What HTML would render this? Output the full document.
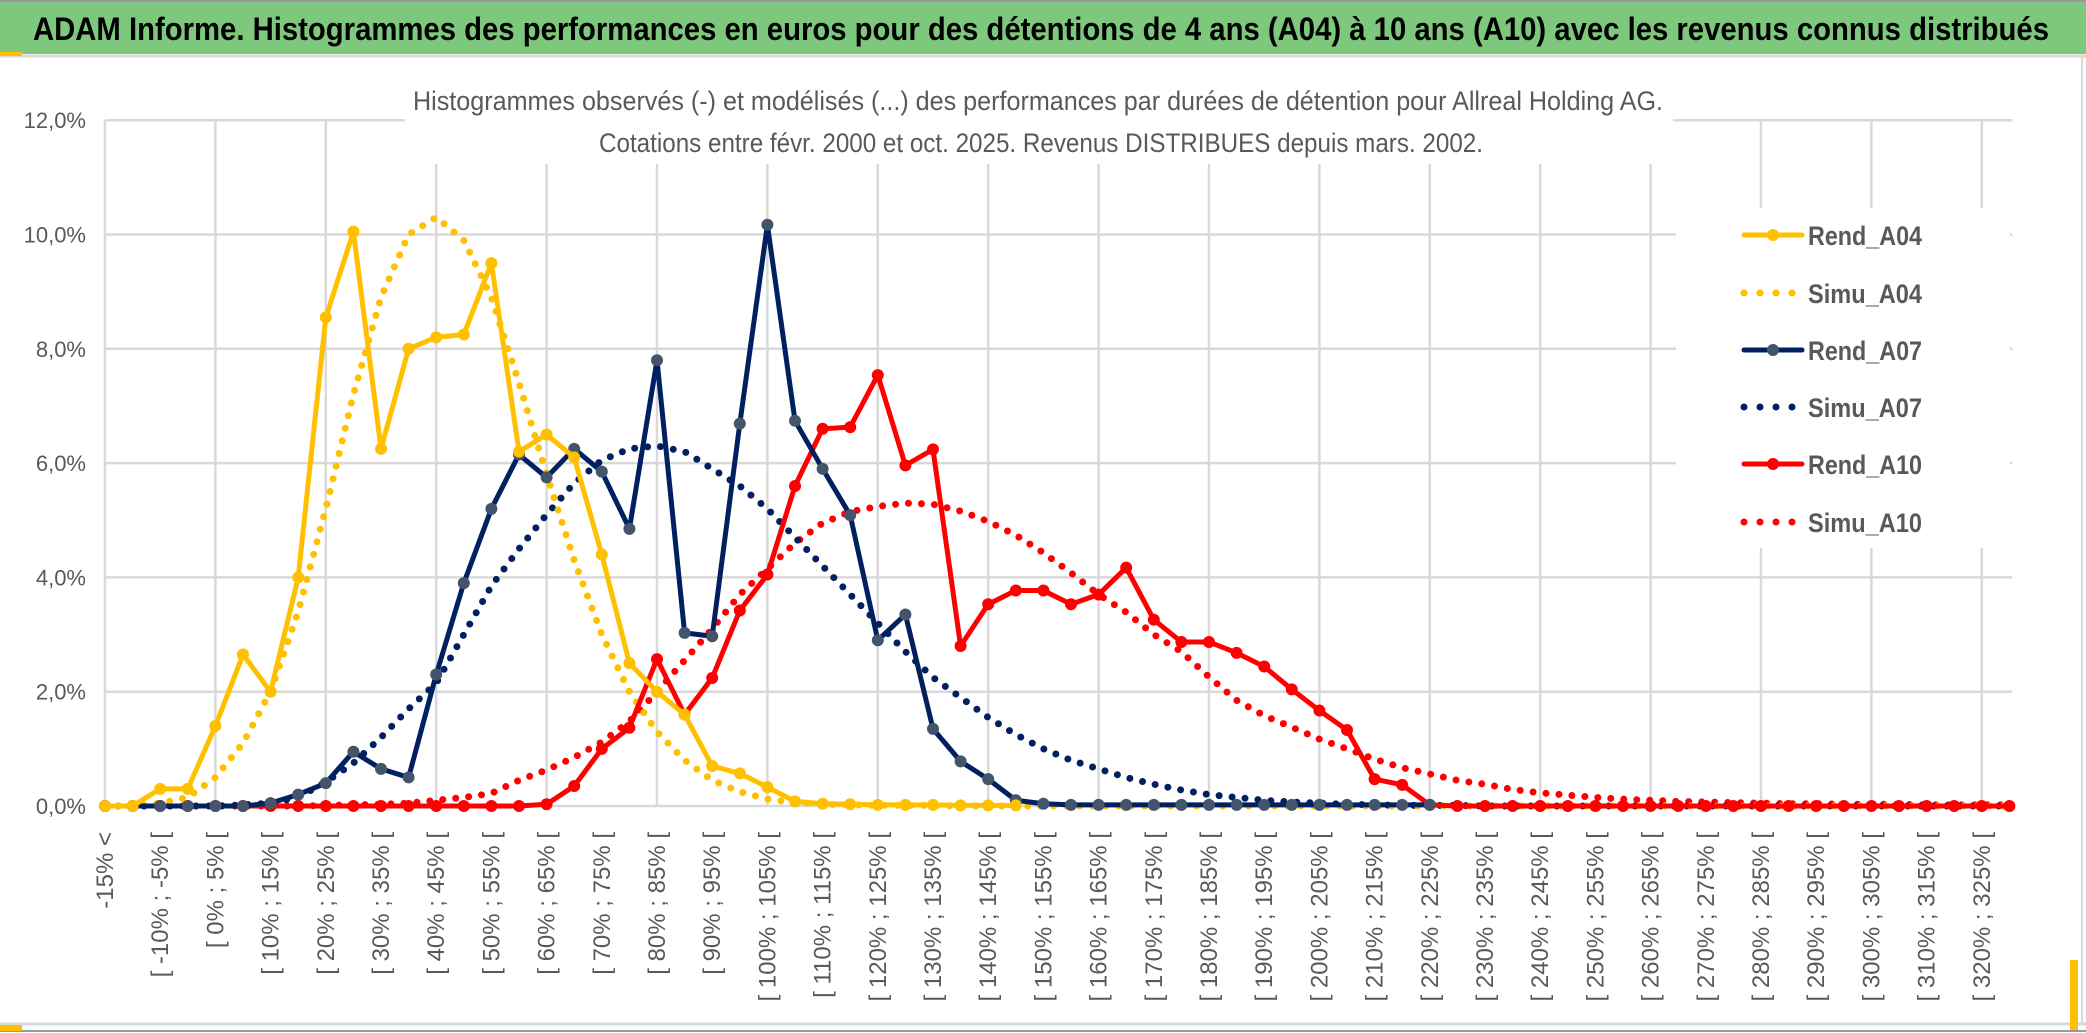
<!DOCTYPE html>
<html><head><meta charset="utf-8">
<style>
html,body{margin:0;padding:0;background:#fff;}
svg{display:block;font-family:"Liberation Sans",sans-serif;}
</style></head>
<body>
<svg id="chart" width="2086" height="1033" viewBox="0 0 2086 1033" xmlns="http://www.w3.org/2000/svg">
<rect x="0" y="0" width="2086" height="1033" fill="#ffffff"/>
<rect x="0" y="2" width="2086" height="52" fill="#7ec87e"/>
<line x1="0" y1="1" x2="2086" y2="1" stroke="#999" stroke-width="2"/>
<line x1="0" y1="56" x2="2086" y2="56" stroke="#d9d9d9" stroke-width="3"/>
<rect x="0" y="52" width="22" height="4" fill="#ffc000"/>
<text x="33" y="40" font-size="32" font-weight="bold" fill="#000" textLength="2016" lengthAdjust="spacingAndGlyphs">ADAM Informe. Histogrammes des performances en euros pour des détentions de 4 ans (A04) à 10 ans (A10) avec les revenus connus distribués</text>
<line x1="2082" y1="56" x2="2082" y2="1025" stroke="#d9d9d9" stroke-width="2"/>
<line x1="0" y1="1024" x2="2086" y2="1024" stroke="#d9d9d9" stroke-width="3"/>
<line x1="0" y1="1031" x2="2086" y2="1031" stroke="#999" stroke-width="2"/>
<rect x="0" y="1025" width="22" height="6" fill="#ffc000"/>
<rect x="2070" y="960" width="8" height="70" fill="#ffc000"/>
<g id="grid"></g>
<rect x="405" y="60" width="1268" height="104" fill="#fff"/>
<text x="1038" y="110" font-size="27" fill="#595959" text-anchor="middle" textLength="1250" lengthAdjust="spacingAndGlyphs">Histogrammes observés (-) et modélisés (...) des performances par durées de détention pour Allreal Holding AG.</text>
<text x="1041" y="152" font-size="27" fill="#595959" text-anchor="middle" textLength="884" lengthAdjust="spacingAndGlyphs">Cotations entre févr. 2000 et oct. 2025. Revenus DISTRIBUES depuis mars. 2002.</text>
<g id="axes"></g>
<g id="series"></g>
<g id="legend"></g>
</svg>
<script>
const yTicks = [0, 2, 4, 6, 8, 10, 12];
const yTickLabels = ["0,0%","2,0%","4,0%","6,0%","8,0%","10,0%","12,0%"];
const nCategories = 70;
const rendA04 = [0,0,0.3,0.3,1.4,2.65,2.0,4.0,8.55,10.05,6.25,8.0,8.2,8.25,9.5,6.2,6.5,6.1,4.4,2.5,2.0,1.6,0.7,0.57,0.33,0.08,0.04,0.03,0.02,0.02,0.02,0.01,0.01,0.01];
const simuA04 = [0,0,0.05,0.15,0.5,1.1,2.0,3.4,5.2,7.2,8.9,10.0,10.3,9.9,8.9,7.4,5.8,4.3,3.0,2.0,1.3,0.8,0.45,0.25,0.12,0.06,0.03,0.02,0.01,0.01,0.01,0,0,0,0,0,0,0,0,0,0,0,0,0,0,0,0,0,0,0,0,0,0,0,0,0,0,0,0,0,0,0,0,0,0,0,0,0,0,0];
const rendA07 = [0,0,0,0,0,0,0.05,0.2,0.4,0.95,0.65,0.5,2.3,3.9,5.2,6.15,5.75,6.25,5.85,4.85,7.8,3.03,2.97,6.69,10.17,6.74,5.9,5.09,2.9,3.35,1.35,0.78,0.47,0.1,0.04,0.02,0.02,0.02,0.02,0.02,0.02,0.02,0.02,0.02,0.02,0.02,0.02,0.02,0.02];
const simuA07 = [0,0,0,0,0,0.02,0.05,0.15,0.42,0.75,1.2,1.7,2.15,3.0,3.85,4.5,5.1,5.65,6.05,6.25,6.3,6.2,5.9,5.6,5.2,4.7,4.2,3.7,3.2,2.7,2.25,1.9,1.55,1.25,1.0,0.8,0.65,0.5,0.38,0.28,0.2,0.15,0.1,0.07,0.05,0.03,0.02,0.01,0.01,0.01,0,0,0,0,0,0,0,0,0,0,0,0,0,0,0,0,0,0,0,0];
const rendA10 = [0,0,0,0,0,0,0,0,0,0,0,0,0,0,0,0,0.03,0.35,1.0,1.37,2.57,1.6,2.24,3.42,4.05,5.6,6.6,6.63,7.54,5.96,6.24,2.8,3.53,3.77,3.77,3.53,3.7,4.17,3.26,2.87,2.87,2.68,2.44,2.04,1.67,1.33,0.47,0.37,0.02,0,0,0,0,0,0,0,0,0,0,0,0,0,0,0,0,0,0,0,0,0];
const simuA10 = [0,0,0,0,0,0,0,0,0.01,0.02,0.03,0.05,0.1,0.15,0.22,0.45,0.63,0.85,1.12,1.48,2.0,2.55,3.1,3.7,4.15,4.6,4.95,5.15,5.24,5.3,5.28,5.16,4.98,4.74,4.43,4.08,3.7,3.39,3.0,2.7,2.26,1.85,1.58,1.38,1.17,1.0,0.82,0.67,0.56,0.45,0.38,0.29,0.23,0.19,0.15,0.12,0.1,0.08,0.07,0.06,0.05,0.04,0.04,0.03,0.03,0.03,0.02,0.02,0.02,0.02];

const NS = "http://www.w3.org/2000/svg";
const X0 = 105, DX = 27.6, Y0 = 806, PER = 57.15;
function xScale(i){ return X0 + i*DX; }
function yScale(v){ return Y0 - v*PER; }
function catLabel(i){ return i===0 ? "-15% <" : "[ " + (5*i-20) + "% ; " + (5*i-15) + "% [" ; }
function mk(tag, attrs, parent){ const e=document.createElementNS(NS,tag); for(const k in attrs) e.setAttribute(k, attrs[k]); parent.appendChild(e); return e; }

const grid = document.getElementById('grid');
const xRight = xScale(nCategories-1)+3;
for (let t=0;t<yTicks.length;t++){
  const l = mk('line',{x1:X0,x2:xRight,y1:yScale(yTicks[t]),y2:yScale(yTicks[t]),stroke:'#d9d9d9','stroke-width':2.5},grid);
  
  
}
for (let i=0;i<nCategories;i+=4){
  const l = mk('line',{x1:xScale(i),x2:xScale(i),y1:yScale(12),y2:yScale(0),stroke:'#d9d9d9','stroke-width':2.5},grid);
  
  
}

const axes = document.getElementById('axes');
for (let t=0;t<yTicks.length;t++){
  const tx = mk('text',{x:86,y:yScale(yTicks[t])+8,'font-size':22,fill:'#595959','text-anchor':'end'},axes);
  
  
  tx.textContent = yTickLabels[t];
}
for (let i=0;i<nCategories-1;i+=2){
  const x = xScale(i)+8, y = 832;
  const tx = mk('text',{x:x,y:y,'font-size':24,fill:'#595959','text-anchor':'end',transform:'rotate(-90 '+x+' '+y+')'},axes);
  
  
  tx.textContent = catLabel(i);
}

const series = document.getElementById('series');
function pts(arr){ return arr.map((v,i)=>xScale(i)+','+yScale(v)).join(' '); }
function drawSimu(arr,color,name){
  const p = mk('polyline',{points:pts(arr),fill:'none',stroke:color,'stroke-width':7,'stroke-dasharray':'0 13','stroke-linecap':'round','stroke-linejoin':'round'},series);
  
  
}
function drawRend(arr,color,mcolor,name){
  const p = mk('polyline',{points:pts(arr),fill:'none',stroke:color,'stroke-width':5,'stroke-linejoin':'round'},series);
  
  
  arr.forEach((v,i)=>{
    const c = mk('circle',{cx:xScale(i),cy:yScale(v),r:6,fill:mcolor},series);
    
    
  });
}
drawSimu(simuA10,'#ff0000','simu-a10-line');
drawSimu(simuA07,'#002060','simu-a07-line');
drawSimu(simuA04,'#ffc000','simu-a04-line');
drawRend(rendA10,'#ff0000','#ff0000','rend-a10-line');
drawRend(rendA07,'#002060','#44546a','rend-a07-line');
drawRend(rendA04,'#ffc000','#ffc000','rend-a04-line');

const legend = document.getElementById('legend');
const bg = mk('rect',{x:1676,y:208,width:334,height:340,fill:'#fff'},legend);


const legendNames = ["Rend_A04","Simu_A04","Rend_A07","Simu_A07","Rend_A10","Simu_A10"];
const legendColors = ["#ffc000","#ffc000","#002060","#002060","#ff0000","#ff0000"];
const legendMarker = ["#ffc000",null,"#44546a",null,"#ff0000",null];
const legendY = [235,293,350,407,464,522];
legendNames.forEach((n,k)=>{
  const g = mk('g',{},legend);
  
  
  const y = legendY[k];
  if (legendMarker[k]){
    mk('line',{x1:1744,x2:1802,y1:y,y2:y,stroke:legendColors[k],'stroke-width':5,'stroke-linecap':'round'},g);
    mk('circle',{cx:1773,cy:y,r:6,fill:legendMarker[k]},g);
  } else {
    mk('line',{x1:1744,x2:1802,y1:y,y2:y,stroke:legendColors[k],'stroke-width':7,'stroke-dasharray':'0 16','stroke-linecap':'round'},g);
  }
  const t = mk('text',{x:1808,y:y+10,'font-size':27,fill:'#595959','font-weight':'bold',textLength:114,lengthAdjust:'spacingAndGlyphs'},g);
  t.textContent = n;
});
</script>
</body></html>
